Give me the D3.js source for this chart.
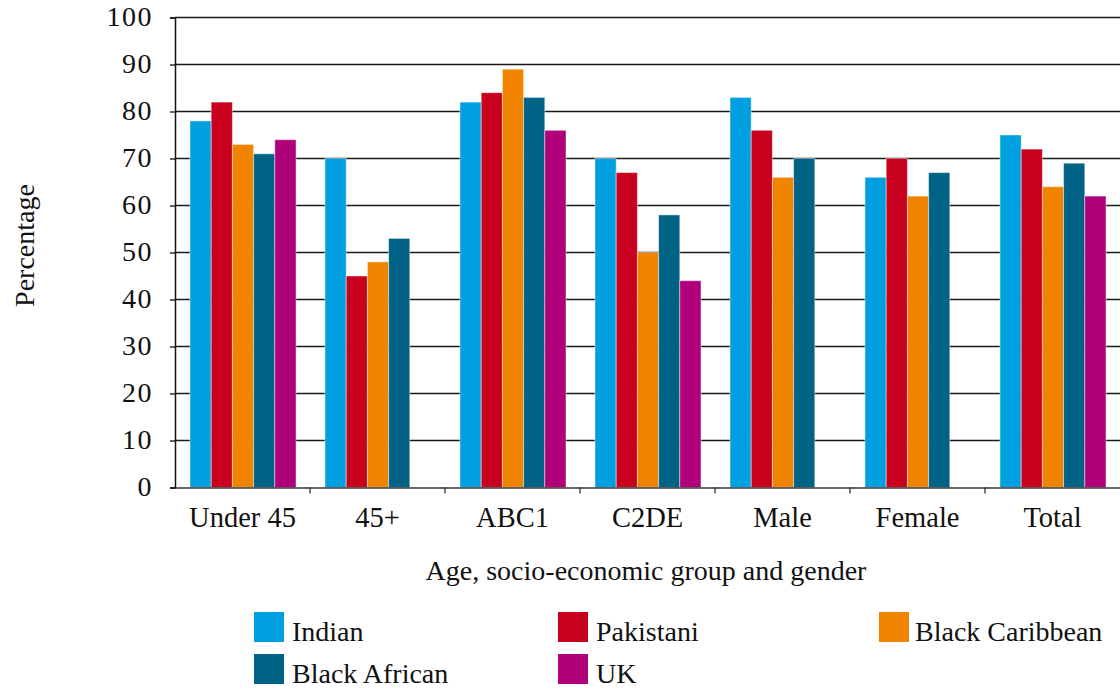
<!DOCTYPE html>
<html>
<head>
<meta charset="utf-8">
<script src="https://cdn.jsdelivr.net/npm/d3@7"></script>
<style>
  body { margin: 0; background: #fff; }
</style>
</head>
<body>
<div id="chart"></div>
<script>
// categories and series
const categories = ['Under 45', '45+', 'ABC1', 'C2DE', 'Male', 'Female', 'Total'];
const seriesNames = ['Indian', 'Pakistani', 'Black Caribbean', 'Black African', 'UK'];
const seriesColors = ['#009fe0', '#c8001e', '#f08300', '#006285', '#b0007a'];

// values per series, in category order (null = no bar)
const indian        = [78, 70, 82, 70, 83, 66, 75];
const pakistani     = [82, 45, 84, 67, 76, 70, 72];
const blackCaribbean = [73, 48, 89, 50, 66, 62, 64];
const blackAfrican  = [71, 53, 83, 58, 70, 67, 69];
const uk            = [74, null, 76, 44, null, null, 62];

const yTicks = [0, 10, 20, 30, 40, 50, 60, 70, 80, 90, 100];

const seriesValues = [indian, pakistani, blackCaribbean, blackAfrican, uk];

const FONT = "'Liberation Serif', 'DejaVu Serif', serif";

const W = 1120, H = 690;
const margin = { top: 17.5, right: 0, bottom: 202.5, left: 175 };
const width = W - margin.left - margin.right,
      height = H - margin.top - margin.bottom;

const svg = d3.select('#chart')
    .append('svg')
    .attr('width', W)
    .attr('height', H)
    .style('font-family', FONT);

const g = svg.append('g')
    .attr('transform', `translate(${margin.left},${margin.top})`);

const x0 = d3.scaleBand().domain(categories).range([0, width]).paddingInner(0).paddingOuter(0);
const x1 = d3.scaleBand().domain(seriesNames).range([15, x0.bandwidth() - 14]).padding(0);
const y = d3.scaleLinear().domain([0, 100]).range([height, 0]);

// gridlines
g.append('g')
    .selectAll('line')
    .data(yTicks.filter(d => d > 0))
    .enter()
    .append('line')
    .attr('x1', 0)
    .attr('x2', width)
    .attr('y1', d => y(d))
    .attr('y2', d => y(d))
    .attr('stroke', '#1a1a1a')
    .attr('stroke-width', 1.3);

// bars
const rows = [];
categories.forEach((c, i) => {
    seriesNames.forEach((s, j) => {
        const v = seriesValues[j][i];
        if (v != null) rows.push({ cat: c, series: s, value: v, color: seriesColors[j] });
    });
});

g.selectAll('.bar')
    .data(rows)
    .enter()
    .append('rect')
    .attr('class', 'bar')
    .attr('x', d => x0(d.cat) + x1(d.series))
    .attr('y', d => y(d.value))
    .attr('width', x1.bandwidth())
    .attr('height', d => height - y(d.value))
    .attr('fill', d => d.color)
    .attr('stroke', '#fff')
    .attr('stroke-opacity', 0.45)
    .attr('stroke-width', 1);

// y axis
const yAxis = g.append('g')
    .call(d3.axisLeft(y).tickValues(yTicks).tickSize(5).tickPadding(17));
yAxis.attr('font-family', FONT).attr('font-size', 28);
yAxis.select('.domain').attr('stroke', '#111').attr('stroke-width', 1.5);
yAxis.selectAll('.tick line').attr('stroke', '#111').attr('stroke-width', 1.3);
yAxis.selectAll('text').attr('fill', '#111').attr('dy', '0.3em').attr('letter-spacing', 1.5);

// x axis
const xAxis = g.append('g')
    .attr('transform', `translate(0,${height})`)
    .call(d3.axisBottom(x0).tickSize(0).tickPadding(19));
xAxis.attr('font-family', FONT).attr('font-size', 28.5);
xAxis.select('.domain').attr('stroke', '#333').attr('stroke-width', 1.5);
xAxis.selectAll('text').attr('fill', '#111');

// category separator ticks
g.append('g')
    .selectAll('line')
    .data(categories.slice(1))
    .enter()
    .append('line')
    .attr('x1', d => x0(d))
    .attr('x2', d => x0(d))
    .attr('y1', height)
    .attr('y2', height + 6)
    .attr('stroke', '#333')
    .attr('stroke-width', 1.3);

// axis titles
svg.append('text')
    .attr('transform', `translate(34,${margin.top + height / 2 - 7}) rotate(-90)`)
    .attr('text-anchor', 'middle')
    .attr('font-family', FONT)
    .attr('font-size', 28)
    .attr('fill', '#111')
    .text('Percentage');

svg.append('text')
    .attr('x', 646)
    .attr('y', 580)
    .attr('text-anchor', 'middle')
    .attr('font-family', FONT)
    .attr('font-size', 28)
    .attr('fill', '#111')
    .text('Age, socio-economic group and gender');

// legend
const legendCols = [254, 558, 879];
const legend = svg.append('g');
seriesNames.forEach((s, i) => {
    const col = i % 3, row = Math.floor(i / 3);
    const lx = legendCols[col], ly = 612 + row * 42;
    legend.append('rect')
        .attr('x', lx)
        .attr('y', ly)
        .attr('width', 30)
        .attr('height', 30)
        .attr('fill', seriesColors[i]);
    legend.append('text')
        .attr('x', lx + (col === 2 ? 36 : 38))
        .attr('y', ly + 29)
        .attr('font-family', FONT)
        .attr('font-size', 28)
        .attr('fill', '#111')
        .text(s);
});
</script>
</body>
</html>
